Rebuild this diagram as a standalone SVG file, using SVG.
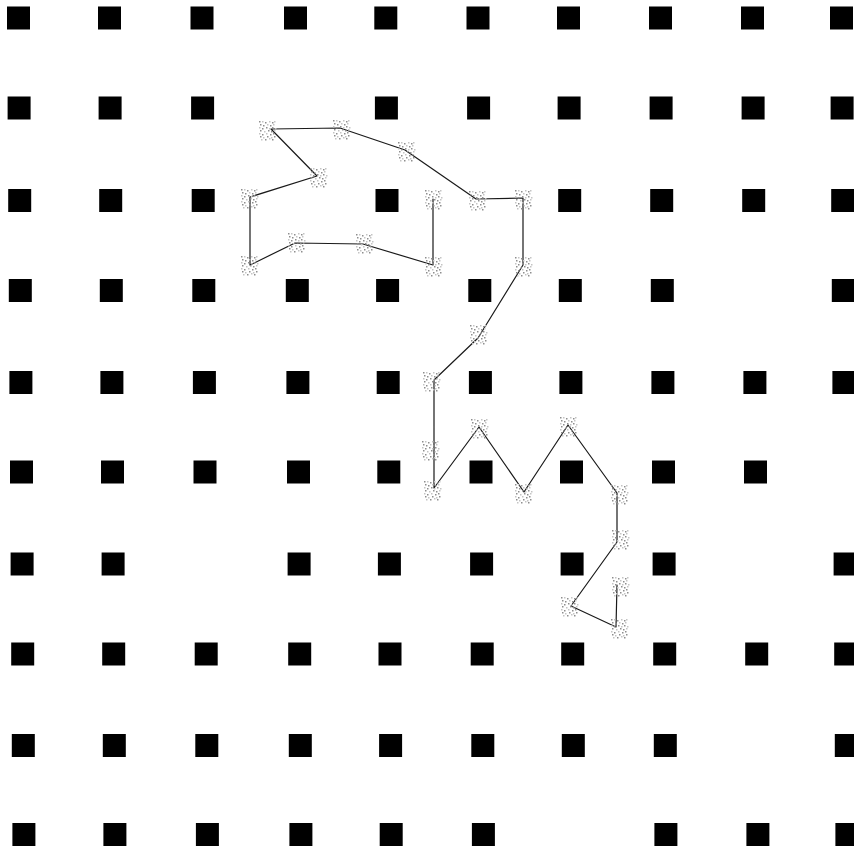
<svg xmlns="http://www.w3.org/2000/svg" xmlns:xlink="http://www.w3.org/1999/xlink" width="854" height="849" viewBox="0 0 854 849">
<style>
.sq{fill:#000}
.ln{fill:none;stroke:#1a1a1a;stroke-width:1.2;stroke-linejoin:round;stroke-linecap:round}
.sp{fill:#8e8e8e}
.sl{fill:#c4c4c4}
</style>
<defs>
<g id="mk">
<rect class="sp" x="-8" y="-9" width="1.5" height="1.5"/><rect class="sl" x="-5" y="-9" width="1.5" height="1.5"/><rect class="sp" x="-2" y="-8" width="1.5" height="1.5"/><rect class="sl" x="2" y="-9" width="1.5" height="1.5"/><rect class="sp" x="5" y="-8" width="1.5" height="1.5"/><rect class="sl" x="7" y="-9" width="1.5" height="1.5"/>
<rect class="sp" x="-7" y="-6" width="1.5" height="1.5"/><rect class="sp" x="-4" y="-5" width="1.5" height="1.5"/><rect class="sl" x="0" y="-6" width="1.5" height="1.5"/><rect class="sp" x="3" y="-5" width="1.5" height="1.5"/><rect class="sl" x="6" y="-6" width="1.5" height="1.5"/>
<rect class="sl" x="-8" y="-3" width="1.5" height="1.5"/><rect class="sp" x="-5" y="-2" width="1.5" height="1.5"/><rect class="sp" x="-1" y="-3" width="1.5" height="1.5"/><rect class="sl" x="2" y="-2" width="1.5" height="1.5"/><rect class="sp" x="5" y="-3" width="1.5" height="1.5"/><rect class="sl" x="8" y="-2" width="1.5" height="1.5"/>
<rect class="sp" x="-7" y="0" width="1.5" height="1.5"/><rect class="sl" x="-3" y="1" width="1.5" height="1.5"/><rect class="sp" x="1" y="0" width="1.5" height="1.5"/><rect class="sp" x="4" y="1" width="1.5" height="1.5"/><rect class="sl" x="7" y="0" width="1.5" height="1.5"/>
<rect class="sl" x="-8" y="3" width="1.5" height="1.5"/><rect class="sp" x="-5" y="4" width="1.5" height="1.5"/><rect class="sl" x="-1" y="3" width="1.5" height="1.5"/><rect class="sp" x="3" y="4" width="1.5" height="1.5"/><rect class="sp" x="6" y="3" width="1.5" height="1.5"/>
<rect class="sp" x="-7" y="6" width="1.5" height="1.5"/><rect class="sl" x="-4" y="7" width="1.5" height="1.5"/><rect class="sp" x="0" y="6" width="1.5" height="1.5"/><rect class="sl" x="4" y="7" width="1.5" height="1.5"/><rect class="sp" x="7" y="6" width="1.5" height="1.5"/>
<rect class="sl" x="-6" y="9" width="1.5" height="1.5"/><rect class="sp" x="-2" y="9" width="1.5" height="1.5"/><rect class="sl" x="2" y="8" width="1.5" height="1.5"/><rect class="sp" x="5" y="9" width="1.5" height="1.5"/>
</g>
</defs>
<rect width="854" height="849" fill="#fff"/>
<g id="grid">
<!-- row 1 -->
<rect class="sq" x="7" y="6.5" width="23" height="23"/><rect class="sq" x="98" y="6.5" width="23" height="23"/><rect class="sq" x="190.5" y="6.5" width="23" height="23"/><rect class="sq" x="284" y="6.5" width="23" height="23"/><rect class="sq" x="374.3" y="6.5" width="23" height="23"/><rect class="sq" x="466.5" y="6.5" width="23" height="23"/><rect class="sq" x="557" y="6.5" width="23" height="23"/><rect class="sq" x="649" y="6.5" width="23" height="23"/><rect class="sq" x="741" y="6.5" width="23" height="23"/><rect class="sq" x="830" y="6.5" width="23" height="23"/>
<!-- row 2 -->
<rect class="sq" x="7.6" y="96.5" width="23" height="23"/><rect class="sq" x="98.6" y="96.5" width="23" height="23"/><rect class="sq" x="191.1" y="96.5" width="23" height="23"/><rect class="sq" x="374.9" y="96.5" width="23" height="23"/><rect class="sq" x="467.1" y="96.5" width="23" height="23"/><rect class="sq" x="557.6" y="96.5" width="23" height="23"/><rect class="sq" x="649.6" y="96.5" width="23" height="23"/><rect class="sq" x="741.6" y="96.5" width="23" height="23"/><rect class="sq" x="830.6" y="96.5" width="23" height="23"/>
<!-- row 3 -->
<rect class="sq" x="8.2" y="189" width="23" height="23"/><rect class="sq" x="99.2" y="189" width="23" height="23"/><rect class="sq" x="191.7" y="189" width="23" height="23"/><rect class="sq" x="375.5" y="189" width="23" height="23"/><rect class="sq" x="558.2" y="189" width="23" height="23"/><rect class="sq" x="650.2" y="189" width="23" height="23"/><rect class="sq" x="742.2" y="189" width="23" height="23"/><rect class="sq" x="831.2" y="189" width="23" height="23"/>
<!-- row 4 -->
<rect class="sq" x="8.8" y="279" width="23" height="23"/><rect class="sq" x="99.8" y="279" width="23" height="23"/><rect class="sq" x="192.3" y="279" width="23" height="23"/><rect class="sq" x="285.8" y="279" width="23" height="23"/><rect class="sq" x="376.1" y="279" width="23" height="23"/><rect class="sq" x="468.3" y="279" width="23" height="23"/><rect class="sq" x="558.8" y="279" width="23" height="23"/><rect class="sq" x="650.8" y="279" width="23" height="23"/><rect class="sq" x="831.8" y="279" width="23" height="23"/>
<!-- row 5 -->
<rect class="sq" x="9.4" y="371" width="23" height="23"/><rect class="sq" x="100.4" y="371" width="23" height="23"/><rect class="sq" x="192.9" y="371" width="23" height="23"/><rect class="sq" x="286.4" y="371" width="23" height="23"/><rect class="sq" x="376.7" y="371" width="23" height="23"/><rect class="sq" x="468.9" y="371" width="23" height="23"/><rect class="sq" x="559.4" y="371" width="23" height="23"/><rect class="sq" x="651.4" y="371" width="23" height="23"/><rect class="sq" x="743.4" y="371" width="23" height="23"/><rect class="sq" x="832.4" y="371" width="23" height="23"/>
<!-- row 6 -->
<rect class="sq" x="10" y="460.5" width="23" height="23"/><rect class="sq" x="101" y="460.5" width="23" height="23"/><rect class="sq" x="193.5" y="460.5" width="23" height="23"/><rect class="sq" x="287" y="460.5" width="23" height="23"/><rect class="sq" x="377.3" y="460.5" width="23" height="23"/><rect class="sq" x="469.5" y="460.5" width="23" height="23"/><rect class="sq" x="560" y="460.5" width="23" height="23"/><rect class="sq" x="652" y="460.5" width="23" height="23"/><rect class="sq" x="744" y="460.5" width="23" height="23"/>
<!-- row 7 -->
<rect class="sq" x="10.6" y="552.5" width="23" height="23"/><rect class="sq" x="101.6" y="552.5" width="23" height="23"/><rect class="sq" x="287.6" y="552.5" width="23" height="23"/><rect class="sq" x="377.9" y="552.5" width="23" height="23"/><rect class="sq" x="470.1" y="552.5" width="23" height="23"/><rect class="sq" x="560.6" y="552.5" width="23" height="23"/><rect class="sq" x="652.6" y="552.5" width="23" height="23"/><rect class="sq" x="833.6" y="552.5" width="23" height="23"/>
<!-- row 8 -->
<rect class="sq" x="11.2" y="642.5" width="23" height="23"/><rect class="sq" x="102.2" y="642.5" width="23" height="23"/><rect class="sq" x="194.7" y="642.5" width="23" height="23"/><rect class="sq" x="288.2" y="642.5" width="23" height="23"/><rect class="sq" x="378.5" y="642.5" width="23" height="23"/><rect class="sq" x="470.7" y="642.5" width="23" height="23"/><rect class="sq" x="561.2" y="642.5" width="23" height="23"/><rect class="sq" x="653.2" y="642.5" width="23" height="23"/><rect class="sq" x="745.2" y="642.5" width="23" height="23"/><rect class="sq" x="834.2" y="642.5" width="23" height="23"/>
<!-- row 9 -->
<rect class="sq" x="11.8" y="734" width="23" height="23"/><rect class="sq" x="102.8" y="734" width="23" height="23"/><rect class="sq" x="195.3" y="734" width="23" height="23"/><rect class="sq" x="288.8" y="734" width="23" height="23"/><rect class="sq" x="379.1" y="734" width="23" height="23"/><rect class="sq" x="471.3" y="734" width="23" height="23"/><rect class="sq" x="561.8" y="734" width="23" height="23"/><rect class="sq" x="653.8" y="734" width="23" height="23"/><rect class="sq" x="834.8" y="734" width="23" height="23"/>
<!-- row 10 -->
<rect class="sq" x="12.4" y="823" width="23" height="23"/><rect class="sq" x="103.4" y="823" width="23" height="23"/><rect class="sq" x="195.9" y="823" width="23" height="23"/><rect class="sq" x="289.4" y="823" width="23" height="23"/><rect class="sq" x="379.7" y="823" width="23" height="23"/><rect class="sq" x="471.9" y="823" width="23" height="23"/><rect class="sq" x="654.4" y="823" width="23" height="23"/><rect class="sq" x="746.4" y="823" width="23" height="23"/><rect class="sq" x="835.4" y="823" width="23" height="23"/>
</g>
<g id="connectors">
<polyline class="ln" points="433,199 433,265 363,244 295,243 250,265 250,197 317,176 271,129 340,128 405,150 476,199 523,198 523,265 478,338 434,380 434,488 479,427 524,492 568,425 617,493 617,542 571,606 616,627 617,585"/>
</g>
<g id="n1"><use xlink:href="#mk" href="#mk" x="433" y="199"/></g>
<g id="n2"><use xlink:href="#mk" href="#mk" x="433" y="266"/></g>
<g id="n3"><use xlink:href="#mk" href="#mk" x="364" y="243"/></g>
<g id="n4"><use xlink:href="#mk" href="#mk" x="296" y="242"/></g>
<g id="n5"><use xlink:href="#mk" href="#mk" x="249" y="265"/></g>
<g id="n6"><use xlink:href="#mk" href="#mk" x="249" y="198"/></g>
<g id="n7"><use xlink:href="#mk" href="#mk" x="318" y="177"/></g>
<g id="n8"><use xlink:href="#mk" href="#mk" x="267" y="130"/></g>
<g id="n9"><use xlink:href="#mk" href="#mk" x="341" y="129"/></g>
<g id="n10"><use xlink:href="#mk" href="#mk" x="406" y="151"/></g>
<g id="n11"><use xlink:href="#mk" href="#mk" x="477" y="200"/></g>
<g id="n12"><use xlink:href="#mk" href="#mk" x="523" y="199"/></g>
<g id="n13"><use xlink:href="#mk" href="#mk" x="523" y="266"/></g>
<g id="n14"><use xlink:href="#mk" href="#mk" x="478" y="334"/></g>
<g id="n15"><use xlink:href="#mk" href="#mk" x="431" y="381"/></g>
<g id="n16"><use xlink:href="#mk" href="#mk" x="430" y="450"/></g>
<g id="n17"><use xlink:href="#mk" href="#mk" x="432" y="490"/></g>
<g id="n18"><use xlink:href="#mk" href="#mk" x="479" y="428"/></g>
<g id="n19"><use xlink:href="#mk" href="#mk" x="523" y="493"/></g>
<g id="n20"><use xlink:href="#mk" href="#mk" x="568" y="426"/></g>
<g id="n21"><use xlink:href="#mk" href="#mk" x="619" y="494"/></g>
<g id="n22"><use xlink:href="#mk" href="#mk" x="620" y="539"/></g>
<g id="n23"><use xlink:href="#mk" href="#mk" x="569" y="606"/></g>
<g id="n24"><use xlink:href="#mk" href="#mk" x="619" y="628"/></g>
<g id="n25"><use xlink:href="#mk" href="#mk" x="620" y="586"/></g>
</svg>
